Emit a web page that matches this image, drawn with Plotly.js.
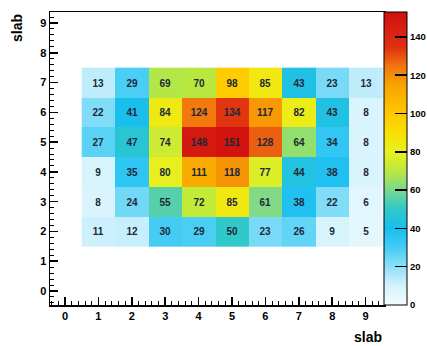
<!DOCTYPE html>
<html><head><meta charset="utf-8">
<script src="https://cdn.plot.ly/plotly-3.0.1.min.js"></script>
<style>html,body{margin:0;padding:0;background:#fff;overflow:hidden;}#chart{width:470px;height:346px;}</style>
</head><body><div id="chart"></div>
<script>
const xBins = [1, 2, 3, 4, 5, 6, 7, 8, 9];
const yBins = [2, 3, 4, 5, 6, 7];
const row2 = [11, 12, 30, 29, 50, 23, 26, 9, 5];
const row3 = [8, 24, 55, 72, 85, 61, 38, 22, 6];
const row4 = [9, 35, 80, 111, 118, 77, 44, 38, 8];
const row5 = [27, 47, 74, 148, 151, 128, 64, 34, 8];
const row6 = [22, 41, 84, 124, 134, 117, 82, 43, 8];
const row7 = [13, 29, 69, 70, 98, 85, 43, 23, 13];
const xTickVals = [0, 1, 2, 3, 4, 5, 6, 7, 8, 9];
const yTickVals = [0, 1, 2, 3, 4, 5, 6, 7, 8, 9];
const cbTickVals = [0, 20, 40, 60, 80, 100, 120, 140];
const xTitle = 'slab';
const yTitle = 'slab';

const z = [row2, row3, row4, row5, row6, row7];
const font = 'Liberation Sans, Arial, sans-serif';
const bold = v => '<b>' + v + '</b>';

const trace = {
  type: 'heatmap',
  x: xBins, y: yBins, z: z,
  zmin: 0, zmax: 153,
  colorscale: [
    [0.0, '#f4fcff'], [0.065, '#d4f2fc'], [0.13, '#90e0f8'], [0.196, '#44ccf4'],
    [0.26, '#18bef0'], [0.327, '#30c8c8'], [0.39, '#78d890'], [0.457, '#b8e840'],
    [0.52, '#e8f020'], [0.59, '#f8e000'], [0.65, '#ffc800'], [0.75, '#f8a400'],
    [0.817, '#f07410'], [0.88, '#e03010'], [1.0, '#d01010']
  ],
  texttemplate: '<b>%{z}</b>',
  textfont: {family: font, size: 10, color: '#202838'},
  hoverinfo: 'none',
  colorbar: {
    x: 1.0, xanchor: 'left', xpad: 0, ypad: 0,
    y: 0.5, yanchor: 'middle', len: 1.0, lenmode: 'fraction',
    thickness: 23, outlinewidth: 1, outlinecolor: '#000',
    tickvals: cbTickVals, ticktext: cbTickVals.map(bold),
    ticks: 'inside', ticklen: 12, tickcolor: '#000', tickwidth: 1.5,
    tickfont: {family: font, size: 9.5, color: '#000'}
  }
};

const axisCommon = {
  showgrid: false, zeroline: false, showline: true, linecolor: '#000', linewidth: 1.5,
  mirror: true, ticks: 'inside', ticklen: 8, tickwidth: 1.5, tickcolor: '#000',
  tickfont: {family: font, size: 11, color: '#000'},
  minor: {dtick: 0.2, ticks: 'inside', ticklen: 4, tickcolor: '#000', tickwidth: 1}
};

const layout = {
  width: 470, height: 346,
  margin: {l: 50, r: 86, t: 12, b: 41},
  paper_bgcolor: '#fff', plot_bgcolor: '#fff',
  xaxis: Object.assign({}, axisCommon, {range: [-0.45, 9.55], tickvals: xTickVals, ticktext: xTickVals.map(bold)}),
  yaxis: Object.assign({}, axisCommon, {range: [-0.47, 9.37], tickvals: yTickVals, ticktext: yTickVals.map(bold)}),
  annotations: [
    {text: bold(xTitle), xref: 'paper', yref: 'paper', x: 1.0, y: -0.11,
     xanchor: 'right', yanchor: 'middle', showarrow: false,
     font: {family: font, size: 14, color: '#000'}},
    {text: bold(yTitle), xref: 'paper', yref: 'paper', x: -0.099, y: 1.0,
     xanchor: 'center', yanchor: 'top', textangle: -90, showarrow: false,
     font: {family: font, size: 14, color: '#000'}}
  ]
};

Plotly.newPlot('chart', [trace], layout, {displayModeBar: false, staticPlot: true});
</script></body></html>
